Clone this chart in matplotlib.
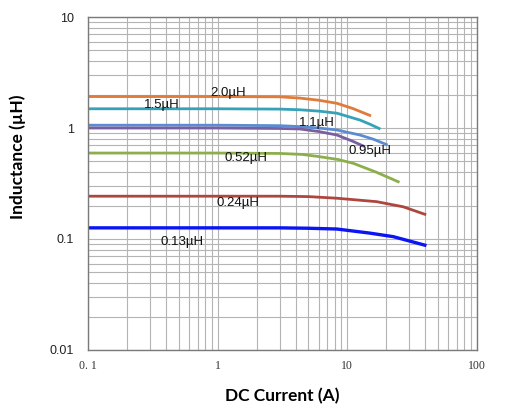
import matplotlib
matplotlib.use("Agg")
import matplotlib.pyplot as plt
from matplotlib.ticker import FixedLocator, LogLocator, NullFormatter

# curve data (current in A, inductance in uH)
x_20 = [0.1, 1, 3, 4.3, 6, 8.3, 11, 14.9]
y_20 = [1.92, 1.92, 1.91, 1.86, 1.78, 1.67, 1.5, 1.30]

x_15 = [0.1, 1, 3, 4.3, 6, 8.3, 12.5, 15, 17.6]
y_15 = [1.49, 1.49, 1.48, 1.46, 1.42, 1.36, 1.18, 1.08, 0.99]

x_11 = [0.1, 1, 3, 4.3, 6, 8.3, 12.5, 16, 20]
y_11 = [1.06, 1.06, 1.05, 1.03, 1.0, 0.96, 0.865, 0.79, 0.71]

x_095 = [0.1, 1, 3, 4.3, 6, 8.3, 11, 13.2]
y_095 = [1.0, 1.0, 0.99, 0.98, 0.93, 0.865, 0.76, 0.69]

x_052 = [0.1, 1, 3, 4.5, 6.15, 8.5, 11.1, 16.8, 24.7]
y_052 = [0.595, 0.595, 0.59, 0.578, 0.551, 0.52, 0.481, 0.399, 0.328]

x_024 = [0.1, 1, 3, 5, 8.3, 16.8, 27, 39.6]
y_024 = [0.243, 0.243, 0.243, 0.241, 0.233, 0.217, 0.195, 0.167]

x_013 = [0.1, 1, 3, 5, 8.3, 14.9, 22.6, 39.6]
y_013 = [0.126, 0.126, 0.126, 0.125, 0.123, 0.113, 0.105, 0.088]

labels = ["2.0µH", "1.5µH", "1.1µH", "0.95µH", "0.52µH", "0.24µH", "0.13µH"]
label_x = [1.20, 0.372, 5.83, 14.9, 1.65, 1.43, 0.531]
label_y = [2.08, 1.61, 1.10, 0.625, 0.537, 0.212, 0.0946]

x_ticks = [0.1, 1, 10, 100]
x_ticklabels = ["0. 1", "1", "10", "100"]
y_ticks = [0.01, 0.1, 1, 10]
y_ticklabels = ["0.01", "0.1", "1", "10"]

fig = plt.figure(figsize=(5.12, 4.18), dpi=100)
ax = fig.add_axes([0.1719, 0.1627, 0.7597, 0.7966])
ax.set_xscale("log")
ax.set_yscale("log")
ax.set_xlim(0.1, 100)
ax.set_ylim(0.01, 10)

ax.plot(x_20, y_20, color="#E07B39", lw=2)
ax.plot(x_15, y_15, color="#36A2B8", lw=2)
ax.plot(x_11, y_11, color="#5B8BD0", lw=2)
ax.plot(x_095, y_095, color="#7A5FA0", lw=2)
ax.plot(x_052, y_052, color="#8CAF4C", lw=2)
ax.plot(x_024, y_024, color="#AE463F", lw=2)
ax.plot(x_013, y_013, color="#0A14F5", lw=2.4)

for t, lx, ly in zip(labels, label_x, label_y):
    ax.text(lx, ly, t, ha="center", va="center", fontsize=9.5,
            family="Liberation Sans", color="#111111")

ax.xaxis.set_major_locator(FixedLocator(x_ticks))
ax.yaxis.set_major_locator(FixedLocator(y_ticks))
ax.xaxis.set_minor_locator(LogLocator(base=10, subs=range(2, 10)))
ax.yaxis.set_minor_locator(LogLocator(base=10, subs=range(2, 10)))
ax.xaxis.set_minor_formatter(NullFormatter())
ax.yaxis.set_minor_formatter(NullFormatter())
ax.set_xticklabels(x_ticklabels, family="Liberation Serif", fontsize=8.5, color="#333333")
ax.set_yticklabels(y_ticklabels, family="Liberation Sans", fontsize=9, color="#222222")
ax.tick_params(which="both", length=0)
ax.tick_params(axis="x", pad=7)
ax.tick_params(axis="y", pad=10)

ax.grid(True, which="both", color="#b4b4b4", lw=0.8)
ax.set_axisbelow(True)
for s in ax.spines.values():
    s.set_color("#7a7a7a")
    s.set_linewidth(1.0)

ax.set_xlabel("DC Current (A)", fontsize=12.5, fontweight="bold", family="Lato", labelpad=12)
ax.set_ylabel("Inductance (µH)", fontsize=12.5, fontweight="bold", family="Lato")
ax.yaxis.set_label_coords(-0.16, 0.58)

fig.savefig("out.png", dpi=100)
